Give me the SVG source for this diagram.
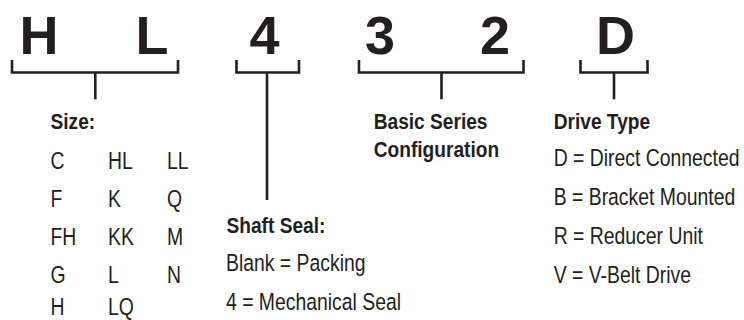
<svg xmlns="http://www.w3.org/2000/svg" width="744" height="320" viewBox="0 0 744 320">
<style>
.big{font-family:"Liberation Sans",Arial,sans-serif;font-weight:bold;font-size:54px;fill:#231f20;text-anchor:middle}
.hd{font-family:"Liberation Sans",Arial,sans-serif;font-weight:bold;font-size:22px;fill:#231f20}
.tx{font-family:"Liberation Sans",Arial,sans-serif;font-size:23.5px;fill:#231f20}
.br{fill:none;stroke:#231f20;stroke-width:2.6;stroke-linecap:butt;stroke-linejoin:miter}
</style>
<rect width="744" height="320" fill="#ffffff"/>
<g id="code">
<text class="big" x="39" y="54">H</text>
<text class="big" x="152" y="54">L</text>
<text class="big" x="264.5" y="54">4</text>
<text class="big" x="380" y="54">3</text>
<text class="big" x="495" y="54">2</text>
<text class="big" x="615.5" y="54">D</text>
</g>
<g id="connectors">
<path class="br" d="M12,60 V72.5 H178 V60"/>
<path class="br" d="M95.3,72.5 V99.3"/>
<path class="br" d="M236.5,60 V72.5 H299 V60"/>
<path class="br" d="M267,72.5 V200"/>
<path class="br" d="M359,60 V72.5 H523.5 V60"/>
<path class="br" d="M441.5,72.5 V99.3"/>
<path class="br" d="M580.5,60 V72.5 H647.5 V60"/>
<path class="br" d="M614,72.5 V99.3"/>
</g>
<g id="size">
<text class="hd" transform="translate(50.5,129) scale(0.87,1)">Size:</text>
<text class="tx" transform="translate(50.5,168.5) scale(0.825,1)">C</text>
<text class="tx" transform="translate(108,168.5) scale(0.825,1)">HL</text>
<text class="tx" transform="translate(167,168.5) scale(0.825,1)">LL</text>
<text class="tx" transform="translate(50.5,206.5) scale(0.825,1)">F</text>
<text class="tx" transform="translate(108,206.5) scale(0.825,1)">K</text>
<text class="tx" transform="translate(167,206.5) scale(0.825,1)">Q</text>
<text class="tx" transform="translate(50.5,244.5) scale(0.825,1)">FH</text>
<text class="tx" transform="translate(108,244.5) scale(0.825,1)">KK</text>
<text class="tx" transform="translate(167,244.5) scale(0.825,1)">M</text>
<text class="tx" transform="translate(50.5,283) scale(0.825,1)">G</text>
<text class="tx" transform="translate(108,283) scale(0.825,1)">L</text>
<text class="tx" transform="translate(167,283) scale(0.825,1)">N</text>
<text class="tx" transform="translate(50.5,314.5) scale(0.825,1)">H</text>
<text class="tx" transform="translate(108,314.5) scale(0.825,1)">LQ</text>
</g>
<g id="shaft-seal">
<text class="hd" transform="translate(226.5,232.5) scale(0.87,1)">Shaft Seal:</text>
<text class="tx" transform="translate(226,271) scale(0.825,1)">Blank = Packing</text>
<text class="tx" transform="translate(226,310) scale(0.825,1)">4 = Mechanical Seal</text>
</g>
<g id="basic-series">
<text class="hd" transform="translate(373.7,129.3) scale(0.87,1)">Basic Series</text>
<text class="hd" transform="translate(373.7,156.7) scale(0.87,1)">Configuration</text>
</g>
<g id="drive-type">
<text class="hd" transform="translate(553.7,128.5) scale(0.87,1)">Drive Type</text>
<text class="tx" transform="translate(553.7,166) scale(0.825,1)">D = Direct Connected</text>
<text class="tx" transform="translate(553.7,205) scale(0.825,1)">B = Bracket Mounted</text>
<text class="tx" transform="translate(553.7,244) scale(0.825,1)">R = Reducer Unit</text>
<text class="tx" transform="translate(553.7,283) scale(0.825,1)">V = V-Belt Drive</text>
</g>
</svg>
